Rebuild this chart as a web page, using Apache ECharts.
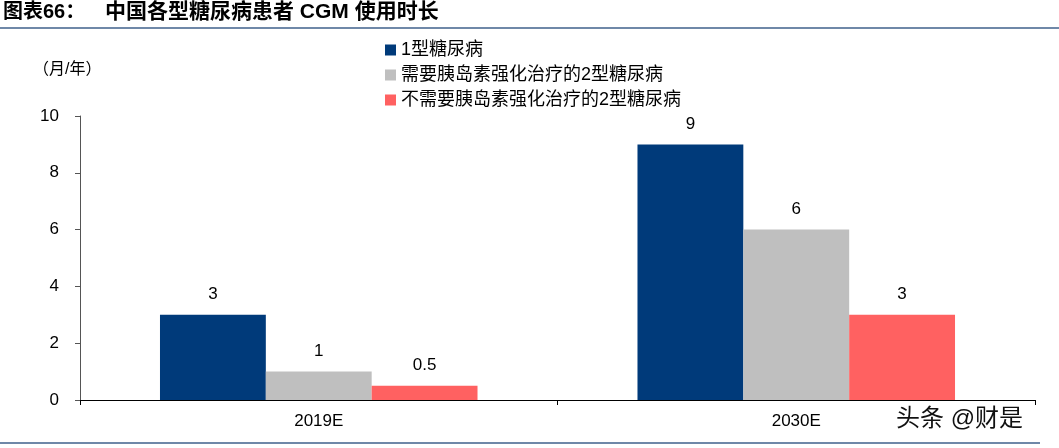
<!DOCTYPE html>
<html><head><meta charset="utf-8">
<script src="https://cdn.jsdelivr.net/npm/echarts@6/dist/echarts.min.js"></script>
<style>html,body{margin:0;padding:0;background:#fff;}#c{width:1059px;height:448px;}</style>
</head><body><div id="c"></div>
<script>
const categories = ['2019E', '2030E'];
const seriesNames = ['1型糖尿病', '需要胰岛素强化治疗的2型糖尿病', '不需要胰岛素强化治疗的2型糖尿病'];
const type1 = [3, 9];
const type2Insulin = [1, 6];
const type2NoInsulin = [0.5, 3];
const colors = ['#003A7A', '#BFBFBF', '#FF6161'];
const font = 'Arial, "Liberation Sans", "Noto Sans CJK SC", sans-serif';
const chart = echarts.init(document.getElementById('c'));
const values = [type1, type2Insulin, type2NoInsulin];
chart.setOption({
  animation: false,
  textStyle: {fontFamily: font},
  graphic: [
    {type: 'text', left: 3, top: 2, style: {text: '图表66：', font: 'bold 20px ' + font, fill: '#000'}},
    {type: 'text', left: 105, top: 2, style: {text: '中国各型糖尿病患者 CGM 使用时长', font: 'bold 21px ' + font, fill: '#000'}},
    {type: 'rect', shape: {x: 0, y: 27, width: 1059, height: 2}, style: {fill: '#6F88A8'}},
    {type: 'rect', shape: {x: 0, y: 442, width: 1040, height: 2}, style: {fill: '#6F88A8'}},
    {type: 'text', left: 33, top: 62, style: {text: '（月/年）', font: '16px ' + font, fill: '#000'}},
    {type: 'text', left: 896, top: 407, style: {text: '头条 @财是', font: '24px ' + font, fill: '#111'}}
  ],
  legend: {
    orient: 'vertical', left: 380, top: 36, itemGap: 7, itemWidth: 11, itemHeight: 11,
    textStyle: {fontSize: 18, color: '#000', fontFamily: font},
    data: seriesNames.map(n => ({name: n, icon: 'rect'}))
  },
  grid: {left: 80, right: 24, top: 116, bottom: 48},
  xAxis: {
    type: 'category', data: categories,
    axisLine: {lineStyle: {color: '#000', width: 1}},
    axisTick: {show: true, length: 5, lineStyle: {color: '#000'}},
    axisLabel: {fontSize: 17, color: '#000', margin: 13}
  },
  yAxis: {
    type: 'value', min: 0, max: 10, interval: 2,
    axisLine: {show: true, lineStyle: {color: '#555', width: 1}},
    axisTick: {show: true, length: 5, lineStyle: {color: '#555'}},
    axisLabel: {fontSize: 17, color: '#000', margin: 21},
    splitLine: {show: false}
  },
  series: seriesNames.map((n, i) => ({
    name: n, type: 'bar', data: values[i], barGap: '0%', barCategoryGap: '33.5%',
    itemStyle: {color: colors[i]},
    label: {show: true, position: 'top', distance: 12, fontSize: 17, color: '#000'}
  }))
});
</script></body></html>
